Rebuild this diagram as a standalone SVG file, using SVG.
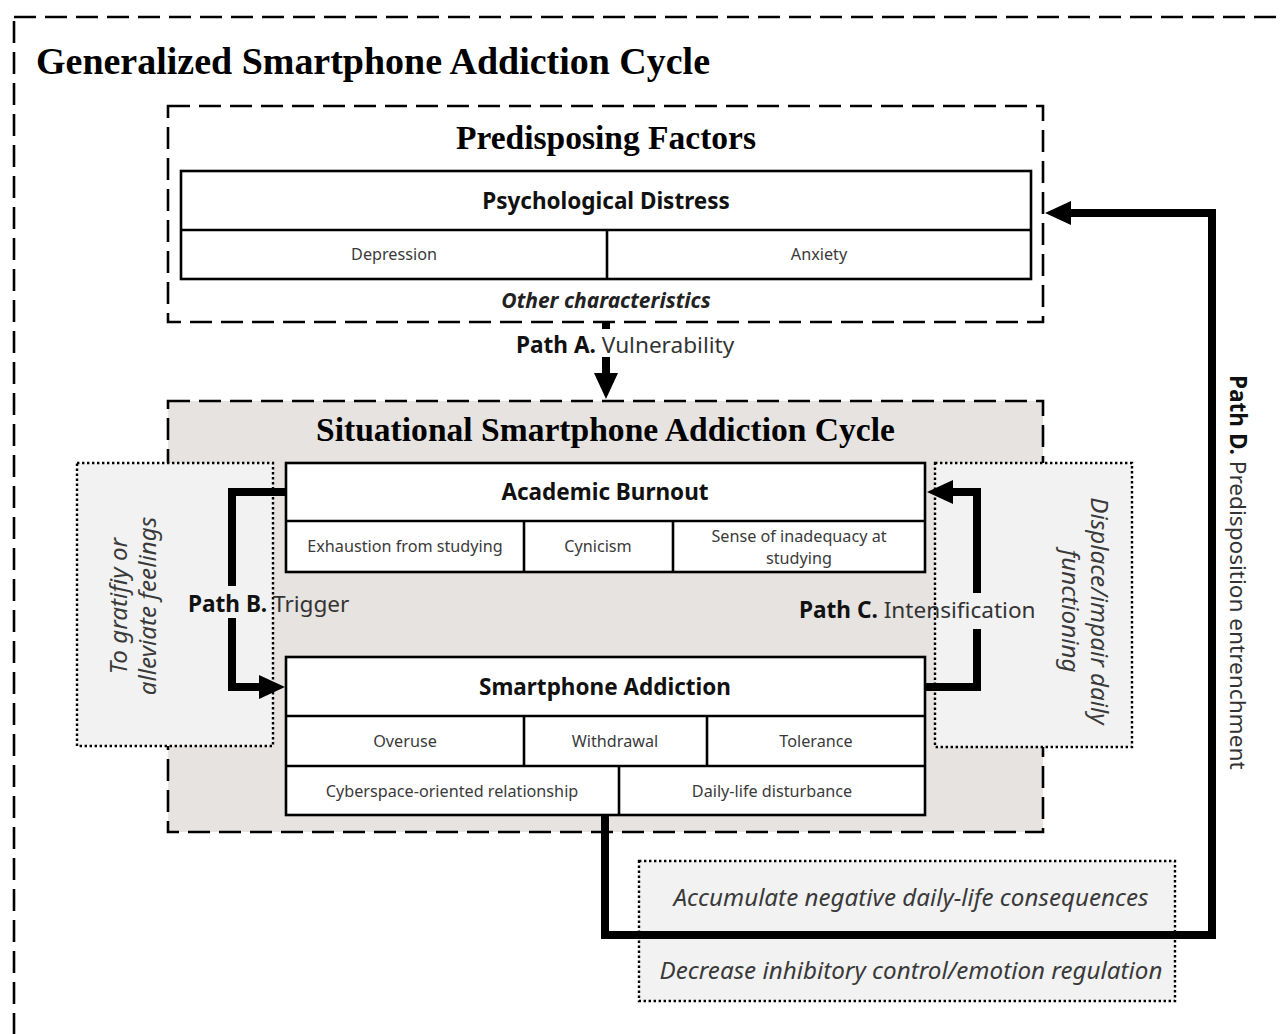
<svg xmlns="http://www.w3.org/2000/svg" width="1284" height="1034" viewBox="0 0 1284 1034">
<style>
.dash{fill:none;stroke:#000;stroke-width:2.6;stroke-dasharray:22 9}
.gray{fill:#e6e3e0}
.dot{fill:#f2f2f2;stroke:#000;stroke-width:2.4;stroke-dasharray:2.4 2.6}
.cell{fill:#fff;stroke:#000;stroke-width:2.6}
.ln{fill:none;stroke:#000;stroke-width:2.6}
.conn{fill:none;stroke:#000;stroke-width:8;stroke-linejoin:miter}
.serif{font-family:"Liberation Serif","Times New Roman",serif;font-weight:bold;fill:#000}
.hd{font-family:"Noto Sans","Open Sans",sans-serif;font-weight:bold;font-size:22.5px;fill:#111;text-anchor:middle}
.ct{font-family:"Noto Sans","Open Sans",sans-serif;font-size:16.2px;fill:#3a3a3a;text-anchor:middle}
.it{font-family:"Noto Sans","Open Sans",sans-serif;font-style:italic;font-size:24.2px;fill:#3a3a3a;text-anchor:middle}
.pl{font-family:"Noto Sans","Open Sans",sans-serif;font-size:22.6px;fill:#333}
.pl .b{font-weight:bold;fill:#111}
</style>
<defs>
<marker id="ah" markerUnits="userSpaceOnUse" viewBox="0 0 26 24" markerWidth="26" markerHeight="24" refX="1" refY="12" orient="auto">
<path d="M0,0 L26,12 L0,24 z" fill="#000"/>
</marker>
</defs>
<rect width="1284" height="1034" fill="#fff"/>

<g id="generalized">
<rect class="dash" x="14" y="17" width="1300" height="1100"/>
<text class="serif" x="36" y="74" font-size="37" textLength="674" lengthAdjust="spacingAndGlyphs">Generalized Smartphone Addiction Cycle</text>
</g>

<g id="predisposing">
<rect class="dash" x="168" y="106" width="875" height="216"/>
<text class="serif" x="456" y="149" font-size="34" textLength="300" lengthAdjust="spacingAndGlyphs">Predisposing Factors</text>
</g>

<g id="psychological-distress">
<rect class="cell" x="181" y="171" width="850" height="108"/>
<line class="ln" x1="181" y1="230" x2="1031" y2="230"/>
<line class="ln" x1="607" y1="230" x2="607" y2="279"/>
<text class="hd" x="606" y="209">Psychological Distress</text>
<text class="ct" x="394" y="260">Depression</text>
<text class="ct" x="819" y="260">Anxiety</text>
<text x="606" y="308" font-family="Noto Sans, Open Sans, sans-serif" font-style="italic" font-weight="bold" font-size="21" fill="#222" text-anchor="middle">Other characteristics</text>
</g>

<g id="situational">
<rect class="dash gray" x="168" y="401" width="875" height="431" style="fill:#e6e3e0"/>
<text class="serif" x="316" y="441" font-size="33" textLength="579" lengthAdjust="spacingAndGlyphs">Situational Smartphone Addiction Cycle</text>
</g>

<g id="gratify">
<rect class="dot" x="77" y="463" width="196" height="283"/>
<text class="it" transform="translate(127,606) rotate(-90)">To gratifiy or</text>
<text class="it" transform="translate(156,606) rotate(-90)">alleviate feelings</text>
</g>

<g id="displace">
<rect class="dot" x="935" y="463" width="197" height="284"/>
<text class="it" transform="translate(1091,611) rotate(90)">Displace/impair daily</text>
<text class="it" transform="translate(1062,611) rotate(90)">functioning</text>
</g>

<g id="consequences">
<rect class="dot" x="639" y="861" width="536" height="140"/>
<text class="it" x="911" y="906">Accumulate negative daily-life consequences</text>
<text class="it" x="911" y="979">Decrease inhibitory control/emotion regulation</text>
</g>

<g id="academic-burnout">
<rect class="cell" x="286" y="463" width="639" height="109"/>
<line class="ln" x1="286" y1="521" x2="925" y2="521"/>
<line class="ln" x1="524" y1="521" x2="524" y2="572"/>
<line class="ln" x1="673" y1="521" x2="673" y2="572"/>
<text class="hd" x="605" y="500">Academic Burnout</text>
<text class="ct" x="405" y="552">Exhaustion from studying</text>
<text class="ct" x="598" y="552">Cynicism</text>
<text class="ct" x="799" y="542">Sense of inadequacy at</text>
<text class="ct" x="799" y="564">studying</text>
</g>

<g id="smartphone-addiction">
<rect class="cell" x="286" y="657" width="639" height="158"/>
<line class="ln" x1="286" y1="716" x2="925" y2="716"/>
<line class="ln" x1="286" y1="766" x2="925" y2="766"/>
<line class="ln" x1="524" y1="716" x2="524" y2="766"/>
<line class="ln" x1="707" y1="716" x2="707" y2="766"/>
<line class="ln" x1="619" y1="766" x2="619" y2="815"/>
<text class="hd" x="605" y="695">Smartphone Addiction</text>
<text class="ct" x="405" y="747">Overuse</text>
<text class="ct" x="615" y="747">Withdrawal</text>
<text class="ct" x="816" y="747">Tolerance</text>
<text class="ct" x="452" y="797">Cyberspace-oriented relationship</text>
<text class="ct" x="772" y="797">Daily-life disturbance</text>
</g>

<g id="connectors">
<path class="conn" d="M606,322 V329 M606,357 V374" marker-end="url(#ah)"/>
<path class="conn" d="M286,492 H232 V586 M232,618 V687 H260" marker-end="url(#ah)"/>
<path class="conn" d="M925,687 H977 V629 M977,593 V492 H952" marker-end="url(#ah)"/>
<path class="conn" d="M605,815 V935 H1212 V213 H1070" marker-end="url(#ah)"/>
<text class="pl" x="516" y="353"><tspan class="b">Path A.</tspan> Vulnerability</text>
<text class="pl" x="188" y="612"><tspan class="b">Path B.</tspan> Trigger</text>
<text class="pl" x="799" y="618"><tspan class="b">Path C.</tspan> Intensification</text>
<text class="pl" transform="translate(1230,375) rotate(90)"><tspan class="b">Path D.</tspan> Predisposition entrenchment</text>
</g>
</svg>
